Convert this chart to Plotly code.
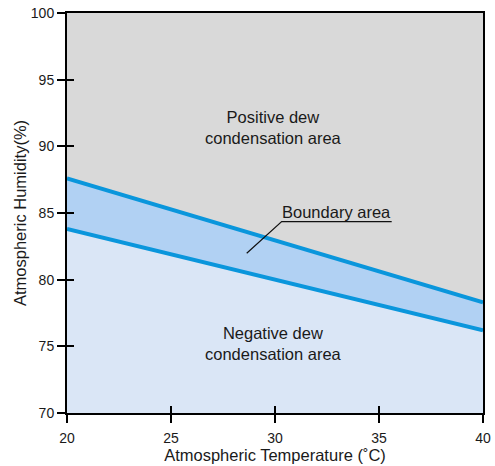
import plotly.graph_objects as go

temps = [20, 40]
upper_humidity = [87.6, 78.3]
lower_humidity = [83.8, 76.2]
x_ticks = [20, 25, 30, 35, 40]
y_ticks = [70, 75, 80, 85, 90, 95, 100]

line_col = "#0a96dc"
fam = "Liberation Sans, Arial, sans-serif"
tick_font = dict(family=fam, size=14, color="#1a1a1a")
title_font = dict(family=fam, size=16.5, color="#1a1a1a")
ann_font = dict(family=fam, size=16.5, color="#1a1a1a")

fig = go.Figure()
fig.add_trace(go.Scatter(x=temps, y=lower_humidity, mode="lines", fill="tozeroy",
                         fillcolor="#dae6f6", line=dict(color=line_col, width=4),
                         showlegend=False, hoverinfo="skip"))
fig.add_trace(go.Scatter(x=temps, y=upper_humidity, mode="lines", fill="tonexty",
                         fillcolor="#b1d1f3", line=dict(color=line_col, width=4),
                         showlegend=False, hoverinfo="skip"))
# Leader line for "Boundary area"
fig.add_trace(go.Scatter(x=[28.64, 30.32, 35.61], y=[81.98, 84.35, 84.35], mode="lines",
                         line=dict(color="#111111", width=1.2), showlegend=False, hoverinfo="skip"))

fig.add_annotation(x=29.95, y=91.4, text="Positive dew<br>condensation area", showarrow=False,
                   font=ann_font)
fig.add_annotation(x=29.95, y=75.2, text="Negative dew<br>condensation area", showarrow=False,
                   font=ann_font)
fig.add_annotation(x=32.95, y=85.05, text="Boundary area", showarrow=False,
                   font=ann_font)

axis_common = dict(showgrid=False, zeroline=False, showline=True, linecolor="black",
                   linewidth=2, mirror=True, ticks="outside", ticklen=8, tickwidth=2,
                   tickcolor="black", tickfont=tick_font, automargin=False)
fig.update_layout(
    width=495, height=466,
    margin=dict(l=67, r=12, t=13, b=53),
    plot_bgcolor="#d9d9d9", paper_bgcolor="white",
    font=tick_font,
    xaxis=dict(range=[20, 40], tickvals=x_ticks, ticktext=[str(v) for v in x_ticks],
               ticklabelstandoff=3,
               title=dict(text="Atmospheric Temperature (˚C)", font=title_font, standoff=5),
               **axis_common),
    yaxis=dict(range=[70, 100], tickvals=y_ticks, ticktext=[str(v) for v in y_ticks],
               title=dict(text="Atmospheric Humidity(%)", font=title_font, standoff=0),
               **axis_common),
    xaxis2=dict(range=[20, 40], overlaying="x", tickvals=x_ticks, showticklabels=False,
                ticks="inside", ticklen=7, tickwidth=2, tickcolor="black",
                showgrid=False, zeroline=False, showline=False, side="bottom"),
    yaxis2=dict(range=[70, 100], overlaying="y", tickvals=y_ticks, showticklabels=False,
                ticks="inside", ticklen=7, tickwidth=2, tickcolor="black",
                showgrid=False, zeroline=False, showline=False, side="left"),
)
fig.add_trace(go.Scatter(x=[20], y=[70], xaxis="x2", yaxis="y2", mode="markers",
                         marker=dict(opacity=0), showlegend=False, hoverinfo="skip"))
fig.write_html("out.html", config={"displayModeBar": False},
               post_script="document.body.style.margin='0';")
